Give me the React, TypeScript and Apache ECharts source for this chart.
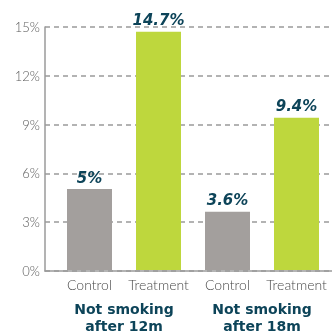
import React, { useEffect, useRef } from "react";
import * as echarts from "echarts";

const categories = ["Control", "Treatment", "Control", "Treatment"];
const values = [5, 14.7, 3.6, 9.4];
const groups = ["Not smoking\nafter 12m", "Not smoking\nafter 18m"];
const yTicks = [0, 3, 6, 9, 12, 15];

const GRAY = "#a39f9d";
const GREEN = "#bed73d";
const TEAL = "#0d4459";
const FONT = "Lato, 'Open Sans', sans-serif";
const BOLD = "'DejaVu Sans', sans-serif";

export default function App() {
  const ref = useRef<HTMLDivElement>(null);
  useEffect(() => {
    if (!ref.current) return;
    const chart = echarts.init(ref.current, null, { renderer: "svg" });
    const yMax = yTicks[yTicks.length - 1];
    const yStep = yTicks[1] - yTicks[0];
    chart.setOption({
      animation: false,
      grid: [
        { left: 45, right: 0, top: 27, bottom: 63 },
        { left: 55, right: 1, top: 27, bottom: 63 },
      ],
      xAxis: [
        {
          gridIndex: 0,
          type: "category",
          data: categories,
          axisLine: { show: true, lineStyle: { color: "#9a9a9a", width: 1.5 } },
          axisTick: { show: false },
          axisLabel: { show: false },
        },
        {
          gridIndex: 1,
          type: "category",
          data: categories,
          axisLine: { show: false },
          axisTick: { show: false },
          axisLabel: {
            interval: 0,
            margin: 7,
            color: "#4a4a4a",
            fontSize: 14,
            fontFamily: FONT,
            fontWeight: 300,
          },
        },
        {
          gridIndex: 1,
          type: "category",
          data: groups,
          position: "bottom",
          offset: 23,
          axisLine: { show: false },
          axisTick: { show: false },
          axisLabel: {
            interval: 0,
            margin: 8,
            color: TEAL,
            fontSize: 14,
            fontWeight: "bold",
            fontFamily: BOLD,
            lineHeight: 16.5,
          },
        },
      ],
      yAxis: [
        {
          gridIndex: 0,
          type: "value",
          min: 0,
          max: yMax,
          interval: yStep,
          axisLine: { show: true, lineStyle: { color: "#9a9a9a", width: 1.5 } },
          axisTick: { show: false },
          axisLabel: {
            formatter: "{value}%",
            color: "#5a5a5a",
            fontSize: 13,
            fontFamily: FONT,
            fontWeight: 300,
            margin: 5,
          },
          splitLine: {
            show: true,
            lineStyle: { color: "#9a9a9a", type: [5, 4], width: 1.5 },
          },
        },
        {
          gridIndex: 1,
          type: "value",
          min: 0,
          max: yMax,
          interval: yStep,
          show: false,
        },
      ],
      series: [
        {
          type: "bar",
          xAxisIndex: 1,
          yAxisIndex: 1,
          barWidth: 45,
          data: values.map((v, i) => ({
            value: v,
            itemStyle: { color: categories[i] === "Control" ? GRAY : GREEN },
          })),
          label: {
            show: true,
            position: "top",
            distance: 4,
            formatter: "{c}%",
            color: TEAL,
            fontSize: 15,
            fontWeight: "bold",
            fontStyle: "italic",
            fontFamily: BOLD,
          },
        },
      ],
    });
    return () => chart.dispose();
  }, []);
  return (
    <div
      ref={ref}
      style={{ position: "fixed", left: 0, top: 0, width: 332, height: 334 }}
    />
  );
}
